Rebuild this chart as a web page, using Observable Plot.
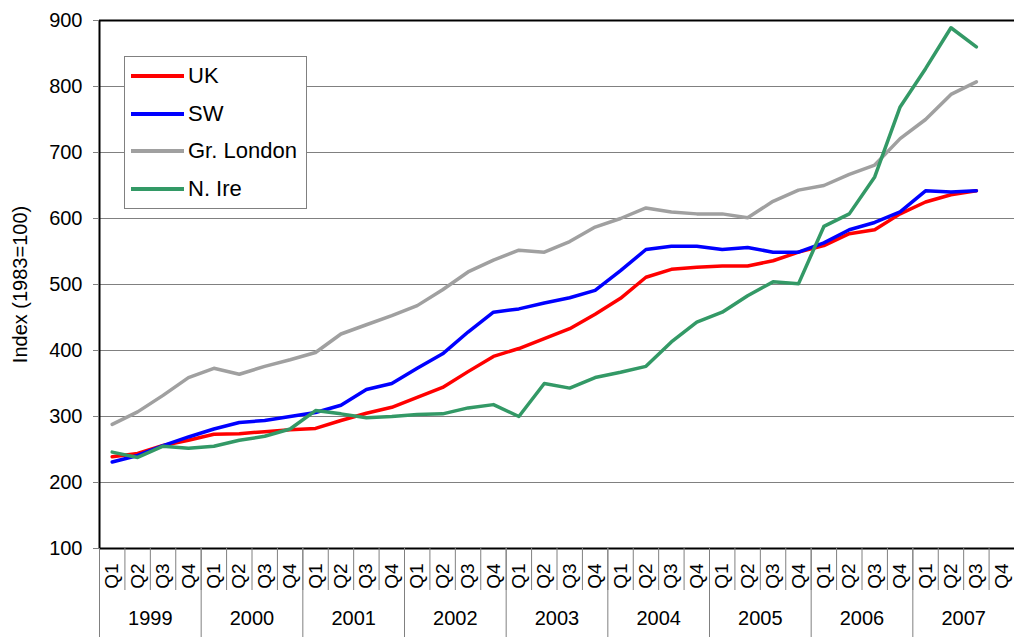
<!DOCTYPE html>
<html>
<head>
<meta charset="utf-8">
<script src="https://cdn.jsdelivr.net/npm/d3@7"></script>
<script src="https://cdn.jsdelivr.net/npm/@observablehq/plot@0.6"></script>
<style>
  html, body { margin: 0; padding: 0; background: #fff; }
  #wrap { position: relative; width: 1014px; height: 637px; font-family: "Liberation Sans", Arial, sans-serif; }
  #wrap svg { display: block; }
  #legend { position: absolute; left: 124px; top: 56px; width: 181px; height: 151px; border: 1px solid #808080; background: #fff; }
  .item { position: absolute; left: 6px; height: 24px; display: flex; align-items: center; font-size: 22px; color: #000; }
  .item span.sw { display: inline-block; width: 53px; height: 4px; margin-right: 4px; }
</style>
</head>
<body>
<div id="wrap"></div>
<script>
// ---- data ----
const years = ["1999","2000","2001","2002","2003","2004","2005","2006","2007"];
const quarterNames = ["Q1","Q2","Q3","Q4"];
const seriesNames = ["UK","SW","Gr. London","N. Ire"];
const seriesColors = ["#ff0000","#0000ff","#a0a0a0","#339966"];
const uk     = [239,244,256,264, 273,274,277,280, 282,294,305,314, 329,344,368,391, 403,418,433,455, 479,511,523,526, 528,528,536,549, 559,577,583,607, 625,636,642];
const sw     = [231,241,256,269, 281,291,294,300, 306,317,341,350, 373,395,428,458, 463,472,480,491, 521,553,558,558, 553,556,549,549, 563,583,594,610, 642,640,642];
const london = [288,307,332,359, 373,364,376,386, 397,425,439,453, 468,492,519,537, 552,549,565,587, 600,616,610,607, 607,601,626,643, 650,667,681,721, 750,788,807];
const nire   = [246,238,255,252, 255,264,270,281, 309,304,298,300, 303,304,313,318, 300,350,343,359, 367,376,413,443, 458,483,504,501, 588,607,663,769, 827,889,860];
const yTicks = [100,200,300,400,500,600,700,800,900];

// ---- derived ----
const nQ = years.length * quarterNames.length;
const seriesValues = [uk, sw, london, nire];
const rows = [];
seriesValues.forEach((vals, s) => vals.forEach((v, i) => rows.push({series: seriesNames[s], x: i + 0.5, value: v})));
const qBounds = d3.range(0, nQ + 1);
const yearBounds = d3.range(0, nQ + 1, 4);
const qCenters = d3.range(nQ).map(i => i + 0.5);
const yearCenters = years.map((y, i) => i * 4 + 2);

const chart = Plot.plot({
  width: 1014,
  height: 637,
  marginLeft: 99,
  marginRight: 0,
  marginTop: 20,
  marginBottom: 89,
  style: {fontFamily: "Liberation Sans, Arial, sans-serif", fontSize: "20px", color: "#000", background: "#fff"},
  x: {type: "linear", domain: [0, nQ]},
  y: {domain: [yTicks[0], yTicks[yTicks.length - 1]]},
  color: {domain: seriesNames, range: seriesColors},
  marks: [
    Plot.ruleY(yTicks.slice(1, -1), {stroke: "#808080", strokeWidth: 1}),
    Plot.ruleY([yTicks[yTicks.length - 1], yTicks[0]], {stroke: "#000", strokeWidth: 2}),
    Plot.ruleX([0], {stroke: "#000", strokeWidth: 2}),
    Plot.axisY(yTicks, {tickSize: 6, tickPadding: 11, stroke: "#808080", fill: "#000", fontSize: 20,
      label: "Index (1983=100)", labelArrow: "none", labelAnchor: "center", labelOffset: 87}),
    Plot.axisX(qBounds, {tickSize: 42, tickFormat: () => "", stroke: "#808080", label: null}),
    Plot.axisX(yearBounds, {tickSize: 89, tickFormat: () => "", stroke: "#808080", label: null}),
    Plot.axisX(qCenters, {tickSize: 0, tickPadding: 15, tickRotate: -90, fontSize: 19,
      tickFormat: d => quarterNames[Math.floor(d) % 4], label: null}),
    Plot.axisX(yearCenters, {tickSize: 0, tickPadding: 62, fontSize: 20,
      tickFormat: d => years[Math.floor(d / 4)], label: null}),
    Plot.line(rows, {x: "x", y: "value", z: "series", stroke: "series", strokeWidth: 3.5, strokeLinejoin: "round"})
  ]
});
document.getElementById("wrap").appendChild(chart);

// ---- legend ----
const legend = document.createElement("div");
legend.id = "legend";
seriesNames.forEach((name, i) => {
  const item = document.createElement("div");
  item.className = "item";
  item.style.top = (7 + i * 37.7) + "px";
  const sw = document.createElement("span");
  sw.className = "sw";
  sw.style.background = seriesColors[i];
  item.appendChild(sw);
  item.appendChild(document.createTextNode(name));
  legend.appendChild(item);
});
document.getElementById("wrap").appendChild(legend);
</script>
</body>
</html>
